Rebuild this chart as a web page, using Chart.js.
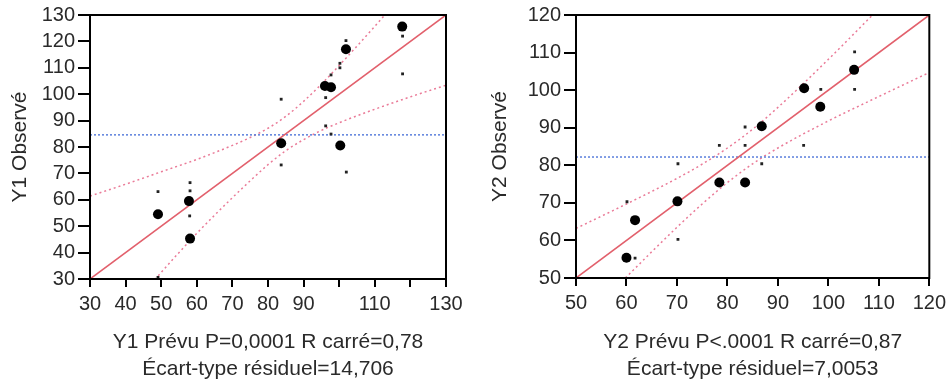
<!DOCTYPE html>
<html>
<head>
<meta charset="utf-8">
<script src="https://cdn.jsdelivr.net/npm/chart.js@4.4.1/dist/chart.umd.min.js"></script>
<style>
  html, body { margin: 0; padding: 0; background: #fff; }
  #wrap { position: relative; width: 951px; height: 380px; overflow: hidden; }
  canvas { position: absolute; top: 0; }
  #c1 { left: 0; }
  #c2 { left: 480px; }
</style>
</head>
<body>
<div id="wrap">
  <canvas id="c1" width="470" height="380"></canvas>
  <canvas id="c2" width="471" height="380"></canvas>
</div>
<script>
// Y1 (left panel)
const y1BigPred = [49.1, 57.8, 58.1, 83.7, 96.0, 97.7, 100.3, 101.9, 117.7];
const y1BigObs = [54.5, 59.5, 45.3, 81.4, 103.1, 102.6, 80.6, 117.0, 125.6];
const y1SmallPred = [49.1, 49.1, 58.1, 58.1, 58.0, 83.7, 83.7, 96.2, 97.7, 96.2, 97.7, 100.2, 100.2, 101.9, 102.0, 117.8, 117.8];
const y1SmallObs = [63.1, 30.6, 66.5, 63.4, 53.9, 98.1, 73.2, 98.7, 107.3, 88.0, 84.9, 111.7, 110.0, 120.3, 70.5, 122.0, 107.7];
const y1FitX = [30, 130];
const y1FitY = [30, 130];
const y1Mean = 84.6;
const y1BandX = [30, 40, 50, 60, 70, 75, 80, 85, 90, 95, 100, 110, 120, 130];
const y1Upper = [61.4, 65.9, 70.6, 75.3, 80.6, 83.6, 87.1, 91.6, 97.3, 103.8, 110.9, 125.7, 141, 156.4];
const y1Lower = [1.0, 17.0, 32.5, 47.3, 60.8, 67.2, 73.3, 78.6, 82.8, 86.3, 89.2, 94.3, 99, 103.4];
const y1XLabels = [30, 40, 50, 60, 70, 80, 90, 110, 130];

// Y2 (right panel)
const y2BigPred = [60.0, 61.7, 70.1, 78.4, 83.5, 86.8, 95.2, 98.4, 105.1];
const y2BigObs = [55.4, 65.4, 70.4, 75.4, 75.4, 90.4, 100.5, 95.6, 105.4];
const y2SmallPred = [60.1, 61.7, 70.2, 70.2, 78.4, 83.5, 83.5, 86.8, 95.1, 98.5, 105.2, 105.2];
const y2SmallObs = [70.3, 55.3, 80.4, 60.3, 85.3, 90.2, 85.3, 80.4, 85.3, 100.2, 110.2, 100.2];
const y2FitX = [50, 120];
const y2FitY = [50, 120];
const y2Mean = 82.2;
const y2BandX = [50, 60, 70, 75, 80, 85, 90, 100, 110, 120];
const y2Upper = [63.2, 69.7, 76.5, 80.3, 84.6, 89.6, 95.4, 108.2, 121.7, 135.3];
const y2Lower = [36.8, 50.3, 63.5, 69.7, 75.4, 80.4, 84.6, 91.8, 98.3, 104.7];
const y2XLabels = [50, 60, 70, 80, 90, 100, 110, 120];

const FONT = '"Liberation Sans", Arial, sans-serif';
const TEXT = '#2a2a2a';

const pts = (xs, ys) => xs.map((x, i) => ({ x, y: ys[i] }));

// black frame round the plot area
const frame = {
  id: 'frame',
  afterDatasetsDraw(chart) {
    const { ctx, chartArea: a } = chart;
    ctx.save();
    ctx.strokeStyle = '#000';
    ctx.lineWidth = 2;
    ctx.strokeRect(a.left, a.top, a.right - a.left, a.bottom - a.top);
    ctx.restore();
  }
};

function makeChart(id, p) {
  const band = (data) => ({
    data, showLine: true, pointRadius: 0, borderColor: '#ea7b98', borderWidth: 1.5,
    borderDash: [2, 3], cubicInterpolationMode: 'monotone', order: 5
  });
  new Chart(document.getElementById(id), {
    type: 'scatter',
    data: {
      datasets: [
        { data: pts(p.bigX, p.bigY), pointStyle: 'circle', pointRadius: 5, backgroundColor: '#000', borderColor: '#000', borderWidth: 0, order: 1 },
        { data: pts(p.smallX, p.smallY), pointStyle: 'rect', pointRadius: 2, backgroundColor: '#222', borderColor: '#222', borderWidth: 0, order: 2 },
        { data: pts(p.fitX, p.fitY), showLine: true, pointRadius: 0, borderColor: '#e2606c', borderWidth: 1.6, order: 3 },
        { data: pts([p.min, p.max], [p.mean, p.mean]), showLine: true, pointRadius: 0, borderColor: '#5b7fdc', borderWidth: 1.5, borderDash: [2, 2], order: 4 },
        band(pts(p.bandX, p.upper)),
        band(pts(p.bandX, p.lower))
      ]
    },
    options: {
      responsive: false,
      animation: false,
      events: [],
      layout: { padding: { left: 0, right: p.padRight, top: 15, bottom: 0 } },
      plugins: { legend: { display: false }, tooltip: { enabled: false } },
      scales: {
        x: {
          type: 'linear', min: p.min, max: p.max,
          ticks: {
            stepSize: 10, autoSkip: false, maxRotation: 0, padding: 5,
            color: TEXT, font: { family: FONT, size: 20 },
            callback: v => p.xLabels.includes(v) ? String(v) : ''
          },
          grid: { drawOnChartArea: false, tickLength: 8, color: '#000', lineWidth: 2 },
          border: { display: false },
          title: {
            display: true, text: p.xTitle, color: TEXT,
            font: { family: FONT, size: 21, lineHeight: 1.3 }, padding: { top: 0, bottom: -3 }
          },
          afterFit: s => { s.height = p.xHeight; }
        },
        y: {
          type: 'linear', min: p.min, max: p.max,
          ticks: { stepSize: 10, autoSkip: false, padding: 3, color: TEXT, font: { family: FONT, size: 20 } },
          grid: { drawOnChartArea: false, tickLength: 12, color: '#000', lineWidth: 2 },
          border: { display: false },
          title: {
            display: true, text: p.yTitle, color: TEXT,
            font: { family: FONT, size: 21, lineHeight: 1.3 }, padding: { top: 7, bottom: 0 }
          },
          afterFit: s => { s.width = p.yWidth; }
        }
      }
    },
    plugins: [frame]
  });
}

makeChart('c1', {
  min: 30, max: 130, mean: y1Mean,
  bigX: y1BigPred, bigY: y1BigObs, smallX: y1SmallPred, smallY: y1SmallObs,
  fitX: y1FitX, fitY: y1FitY, bandX: y1BandX, upper: y1Upper, lower: y1Lower,
  xLabels: y1XLabels,
  xTitle: ['Y1 Prévu P=0,0001 R carré=0,78', 'Écart-type résiduel=14,706'],
  yTitle: 'Y1 Observé',
  yWidth: 90, xHeight: 101, padRight: 24
});

makeChart('c2', {
  min: 50, max: 120, mean: y2Mean,
  bigX: y2BigPred, bigY: y2BigObs, smallX: y2SmallPred, smallY: y2SmallObs,
  fitX: y2FitX, fitY: y2FitY, bandX: y2BandX, upper: y2Upper, lower: y2Lower,
  xLabels: y2XLabels,
  xTitle: ['Y2 Prévu P<.0001 R carré=0,87', 'Écart-type résiduel=7,0053'],
  yTitle: 'Y2 Observé',
  yWidth: 96, xHeight: 102, padRight: 20
});
</script>
</body>
</html>
